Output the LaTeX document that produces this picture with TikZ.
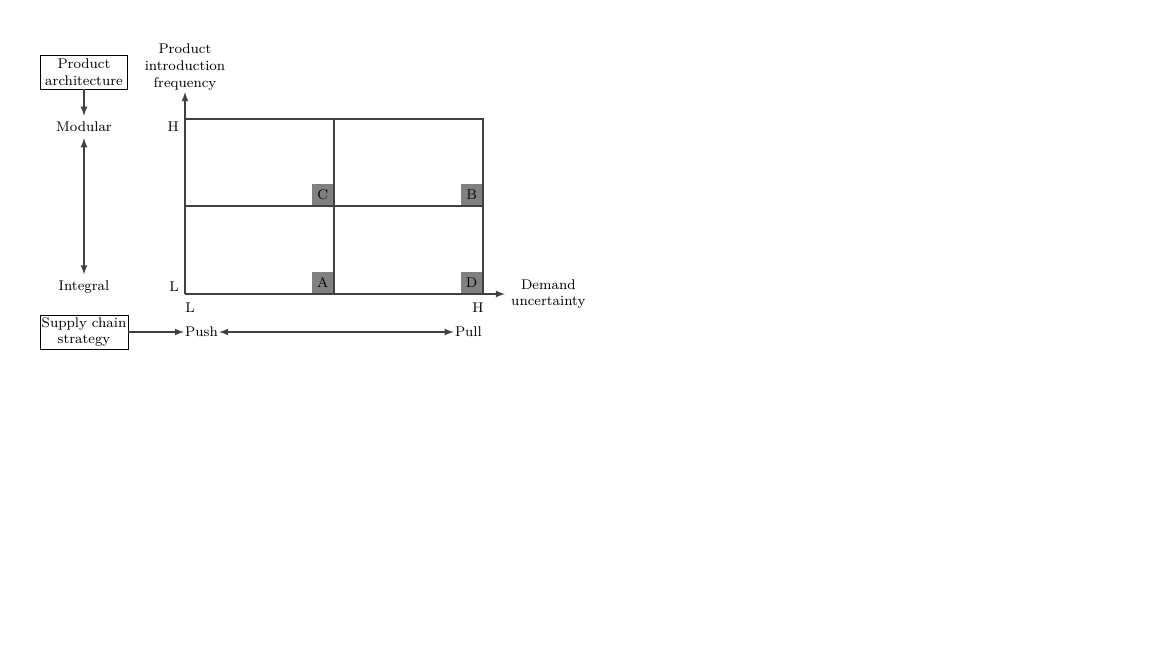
\documentclass[tikz,border=0pt]{standalone}
\usetikzlibrary{positioning}
\begin{document}
\begin{tikzpicture}[x=0.02cm,y=-0.02cm,>=latex,font=\footnotesize,
    line/.style={thick,draw=black!75},
    box/.style={draw,rectangle,align=center,minimum width=1.74cm,minimum height=0.68cm,inner sep=1pt},
    cell/.style={fill=black!50,rectangle,minimum size=0.44cm,inner sep=0pt}]
    %% Frame
    \useasboundingbox (0,0) rectangle (1152,648);
    %% Corners of the grid
    \coordinate (O) at (185,294);
    \coordinate (TR) at (483,119);
    %% Quadrant tags
    \node[cell,anchor=south east] (C) at (334,206) {C};
    \node[cell,anchor=south east] (B) at (483,206) {B};
    \node[cell,anchor=south east] (A) at (334,294) {A};
    \node[cell,anchor=south east] (D) at (483,294) {D};
    %% Grid
    \draw[line] (185,119) -- (TR) -- (483,294);
    \draw[line] (185,206) -- (483,206);
    \draw[line] (334,119) -- (334,294);
    %% Axes
    \coordinate (ytip) at (185,92);
    \coordinate (xtip) at (505,294);
    \draw[line,->] (O) -- (ytip);
    \draw[line,->] (O) -- (xtip);
    \node[anchor=south,align=center,inner sep=2pt] (freq) at (185,94) {Product\\introduction\\frequency};
    \node[anchor=west,align=center] (dem) at (xtip) {Demand\\uncertainty};
    \node[anchor=east] (yH) at (185,127) {H};
    \node[anchor=east] (yL) at (185,287) {L};
    \node[anchor=north] (xL) at (190,297) {L};
    \node[anchor=north] (xH) at (478,297) {H};
    %% Product architecture
    \node[box] (arch) at (84,72) {Product\\architecture};
    \node (modular) at (84,127) {Modular};
    \node (integral) at (84,287) {Integral};
    \draw[line,->] (arch.south) -- (modular.north);
    \draw[line,<->] (modular.south) -- (integral.north);
    %% Supply chain strategy
    \node[box] (supply) at (84,332) {Supply chain\\strategy};
    \node[anchor=west,inner sep=0.5pt] (push) at (184,332) {Push};
    \node[anchor=east,inner sep=0.5pt] (pull) at (483,332) {Pull};
    \draw[line,->] (supply.east) -- (push.west);
    \draw[line,<->] (push.east) -- (pull.west);
\end{tikzpicture}
\end{document}
